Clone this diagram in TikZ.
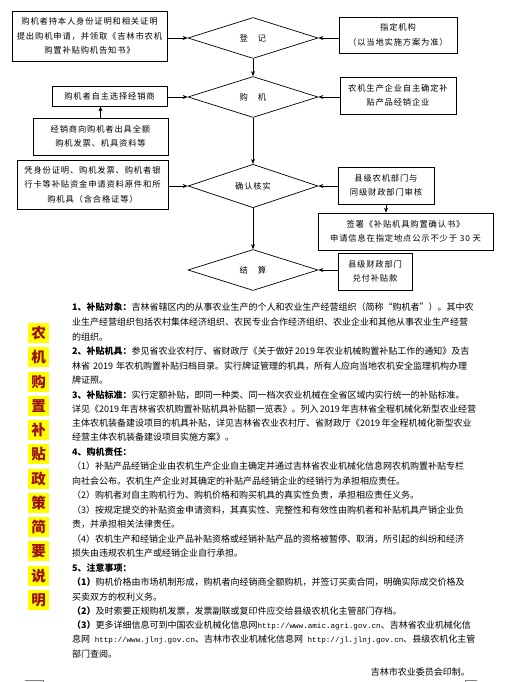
\documentclass[tikz,border=0pt]{standalone}
\usepackage{fontspec}
\setmainfont{Noto Sans CJK SC}
\newfontfamily\boxfont[LetterSpace=10]{Noto Sans CJK SC}
\newfontfamily\urlfont{Liberation Mono}
\usetikzlibrary{shapes.geometric,arrows.meta}
\definecolor{hl}{HTML}{FFFF00}
\definecolor{redtxt}{HTML}{9A1010}
\XeTeXlinebreaklocale "zh"
\XeTeXlinebreakskip=0pt plus 2pt
\newcommand\jl[1]{\hbox to 395pt{#1}}
\newcommand\myurl[1]{{\urlfont\fontsize{7.6}{9}\selectfont #1}}
\begin{document}
\begin{tikzpicture}[x=1pt,y=-1pt,
  box/.style={draw,line width=0.7pt,align=center,inner sep=0pt,font={\boxfont\fontsize{8.3}{14.5}\selectfont}},
  dia/.style={draw,diamond,line width=0.7pt,inner sep=0pt,minimum width=130pt,minimum height=41pt,font={\boxfont\fontsize{8.3}{14.5}\selectfont}},
  arr/.style={line width=0.8pt,-{Stealth[length=5pt,width=4pt]}},
  para/.style={anchor=west,inner sep=0pt,font={\fontsize{9}{11}\selectfont}},
  vch/.style={fill=hl,text=redtxt,font={\bfseries\fontsize{14.5}{15}\selectfont},inner sep=0pt,minimum width=21pt,minimum height=20pt}
]
\useasboundingbox[fill=white] (0,0) rectangle (518,682);

% diamonds
\node[dia] (D1) at (253,38) {登　记};
\node[dia] (D2) at (253,97) {购　机};
\node[dia] (D3) at (253,186) {确认核实};
\node[dia] (D4) at (253,270) {结　算};

% left boxes
\node[box,minimum width=155pt,minimum height=50pt] (B1) at (89.5,36)
  {购机者持本人身份证明和相关证明\\提出购机申请，并领取《吉林市农机\\购置补贴购机告知书》};
\node[box,minimum width=115pt,minimum height=20pt] (B2) at (109.5,96)
  {购机者自主选择经销商};
\node[box,minimum width=135pt,minimum height=37pt] (B3) at (100.5,136.5)
  {经销商向购机者出具全额\\购机发票、机具资料等};
\node[box,minimum width=151pt,minimum height=49pt] (B4) at (92.5,184.5)
  {凭身份证明、购机发票、购机者银\\行卡等补贴资金申请资料原件和所\\购机具（含合格证等）};

% right boxes
\node[box,minimum width=118pt,minimum height=36pt] (R1) at (398,35)
  {指定机构\\（以当地实施方案为准）};
\node[box,minimum width=116pt,minimum height=37pt] (R2) at (398,95.5)
  {农机生产企业自主确定补\\贴产品经销企业};
\node[box,minimum width=96pt,minimum height=37pt] (R3) at (386,185.5)
  {县级农机部门与\\同级财政部门审核};
\node[box,minimum width=175pt,minimum height=37pt] (R4) at (405.5,231.5)
  {签署《补贴机具购置确认书》\\申请信息在指定地点公示不少于 30 天};
\node[box,minimum width=74pt,minimum height=37pt] (R5) at (375,271.5)
  {县级财政部门\\兑付补贴款};

% connectors
\draw[arr] (D1.south) -- (D2.north);
\draw[arr] (D2.south) -- (D3.north);
\draw[arr] (D3.south) -- (D4.north);
\draw[arr] (D1.west -| B1.east) -- (D1.west);
\draw[arr] (D2.west -| B2.east) -- (D2.west);
\draw[arr] (D3.west -| B4.east) -- (D3.west);
\draw[arr] (B3.north) -- (B3.north |- B2.south);
\draw[arr] (D1.east -| R1.west) -- (D1.east);
\draw[arr] (D2.east -| R2.west) -- (D2.east);
\draw[arr] (D3.east -| R3.west) -- (D3.east);
\draw[arr] (D4.east -| R5.west) -- (D4.east);
\draw[arr] (R3.south) -- (R3.south |- R4.north);

% vertical title
\foreach \c [count=\i from 0] in {农,机,购,置,补,贴,政,策,简,要,说,明}{
  \node[vch] (V\i) at (38.5,{333+24.27*\i}) {\c};
}

% notes
\node[para] (L1) at (72,307) {\jl{\textbf{1、补贴对象：}吉林省辖区内的从事农业生产的个人和农业生产经营组织（简称“购机者”）。其中农}};
\node[para] (L2) at (72,322) {\jl{业生产经营组织包括农村集体经济组织、农民专业合作经济组织、农业企业和其他从事农业生产经营}};
\node[para] (L3) at (72,337) {的组织。};
\node[para] (L4) at (72,351) {\jl{\textbf{2、补贴机具：}参见省农业农村厅、省财政厅《关于做好 2019 年农业机械购置补贴工作的通知》及吉}};
\node[para] (L5) at (72,366) {\jl{林省 2019 年农机购置补贴归档目录。实行牌证管理的机具，所有人应向当地农机安全监理机构办理}};
\node[para] (L6) at (72,380) {牌证照。};
\node[para] (L7) at (72,395) {\jl{\textbf{3、补贴标准：}实行定额补贴，即同一种类、同一档次农业机械在全省区域内实行统一的补贴标准。}};
\node[para] (L8) at (72,409) {\jl{详见《2019 年吉林省农机购置补贴机具补贴额一览表》。列入 2019 年吉林省全程机械化新型农业经营}};
\node[para] (L9) at (72,423) {\jl{主体农机装备建设项目的机具补贴，详见吉林省农业农村厅、省财政厅《2019 年全程机械化新型农业}};
\node[para] (L10) at (72,437) {经营主体农机装备建设项目实施方案》。};
\node[para] (L11) at (72,452) {\textbf{4、购机责任：}};
\node[para] (L12) at (72,466) {\jl{（1）补贴产品经销企业由农机生产企业自主确定并通过吉林省农业机械化信息网农机购置补贴专栏}};
\node[para] (L13) at (72,481) {向社会公布。农机生产企业对其确定的补贴产品经销企业的经销行为承担相应责任。};
\node[para] (L14) at (72,495) {（2）购机者对自主购机行为、购机价格和购买机具的真实性负责，承担相应责任义务。};
\node[para] (L15) at (72,510) {\jl{（3）按规定提交的补贴资金申请资料，其真实性、完整性和有效性由购机者和补贴机具产销企业负}};
\node[para] (L16) at (72,524) {责，并承担相关法律责任。};
\node[para] (L17) at (72,539) {\jl{（4）农机生产和经销企业产品补贴资格或经销补贴产品的资格被暂停、取消，所引起的纠纷和经济}};
\node[para] (L18) at (72,553) {损失由违规农机生产或经销企业自行承担。};
\node[para] (L19) at (72,568) {\textbf{5、注意事项：}};
\node[para] (L20) at (72,582) {\jl{\textbf{（1）}购机价格由市场机制形成，购机者向经销商全额购机，并签订买卖合同，明确实际成交价格及}};
\node[para] (L21) at (72,597) {买卖双方的权利义务。};
\node[para] (L22) at (72,611) {\textbf{（2）}及时索要正规购机发票，发票副联或复印件应交给县级农机化主管部门存档。};
\node[para] (L23) at (72,625) {\textbf{（3）}更多详细信息可到中国农业机械化信息网\myurl{http://www.amic.agri.gov.cn}、吉林省农业机械化信};
\node[para] (L24) at (72,639) {息网\myurl{ http://www.jlnj.gov.cn}、吉林市农业机械化信息网\myurl{ http://jl.jlnj.gov.cn}、县级农机化主管};
\node[para] (L25) at (72,654) {部门查阅。};
\node[para,anchor=east] (L26) at (470,672) {吉林市农业委员会印制。};

% page corner marks
\draw[gray,line width=0.5pt] (25,680) -- (43,680) -- (43,682);
\draw[gray,line width=0.5pt] (477,680) -- (465,680) -- (465,682);
\end{tikzpicture}
\end{document}
